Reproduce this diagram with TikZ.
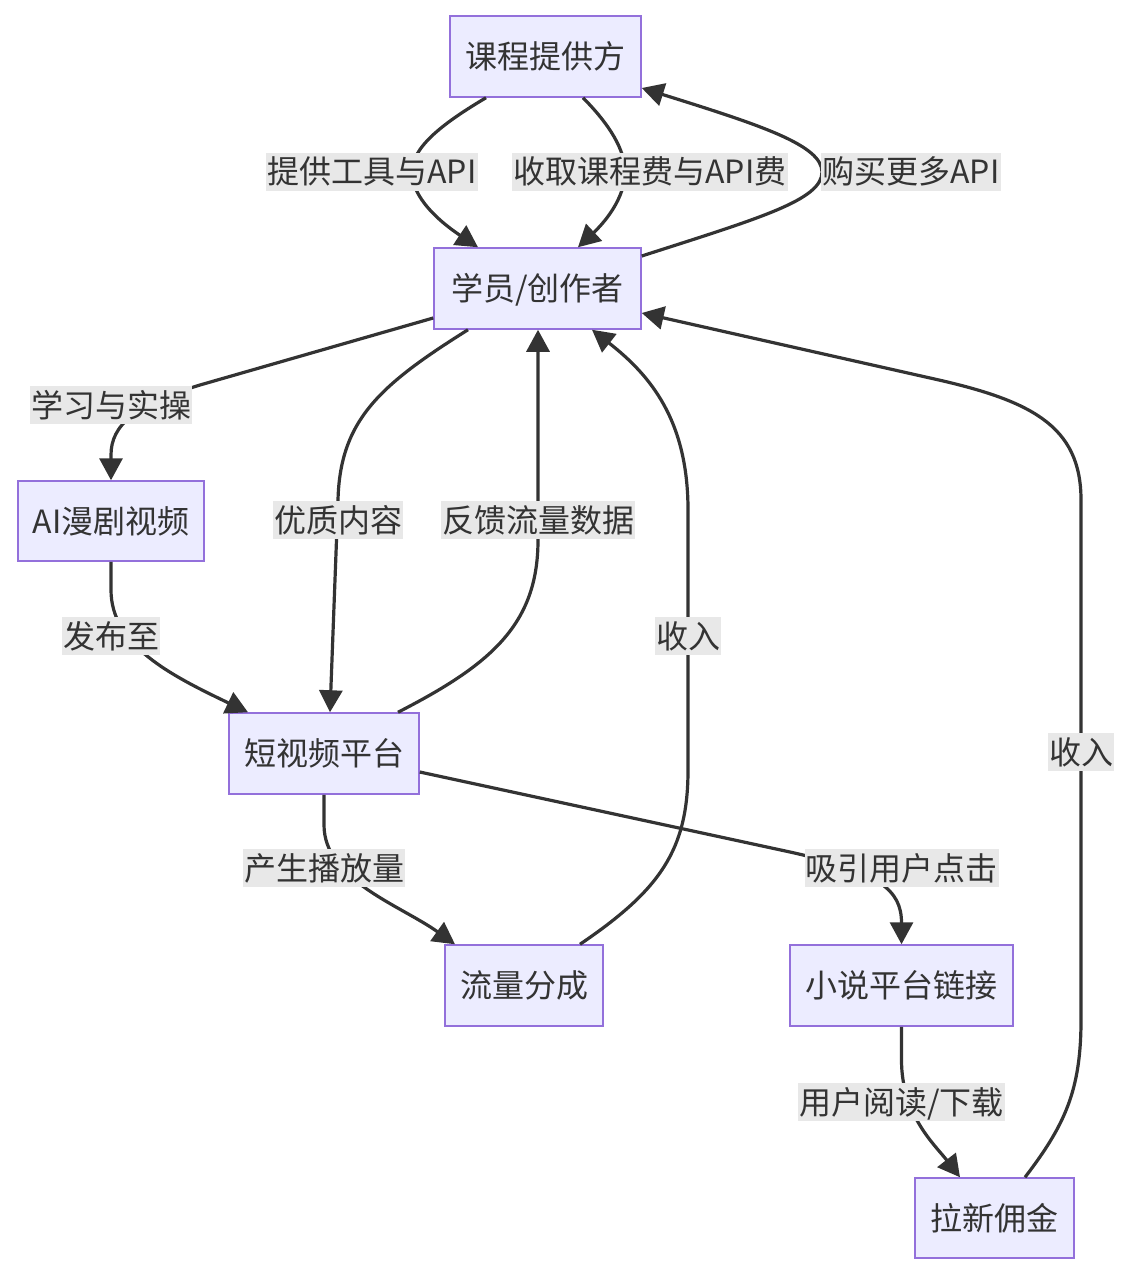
\documentclass[tikz,border=0pt]{standalone}
\usepackage{fontspec}
\setmainfont{Noto Sans CJK SC}
\usetikzlibrary{arrows.meta,calc}
\definecolor{nodefill}{HTML}{ECECFF}
\definecolor{nodeline}{HTML}{9370DB}
\definecolor{ink}{HTML}{333333}
\definecolor{lblbg}{HTML}{E8E8E8}
\begin{document}
\begin{tikzpicture}[x=1pt,y=-1pt,
  box/.style={draw=nodeline,fill=nodefill,line width=1.5pt,text=ink,
    font=\fontsize{32}{38}\selectfont,inner sep=0pt,text height=30pt,text depth=6pt},
  lbl/.style={fill=lblbg,text=ink,font=\fontsize{32}{38}\selectfont,
    inner xsep=1pt,inner ysep=1pt,text height=30pt,text depth=6pt},
  edge/.style={draw=ink,line width=3.2pt,-{Triangle[length=22pt,width=23pt]}}]
\useasboundingbox (0,0) rectangle (1132,1276);
% nodes
\node[box,minimum width=191pt,minimum height=81pt] (kc) at (545.5,56.5) {课程提供方};
\node[box,minimum width=207pt,minimum height=81pt] (xy) at (537.5,288.5) {学员/创作者};
\node[box,minimum width=186pt,minimum height=80pt] (ai) at (111,521) {AI漫剧视频};
\node[box,minimum width=190pt,minimum height=81pt] (dsp) at (324,753.5) {短视频平台};
\node[box,minimum width=158pt,minimum height=81pt] (ll) at (524,985.5) {流量分成};
\node[box,minimum width=223pt,minimum height=81pt] (xs) at (901.5,985.5) {小说平台链接};
\node[box,minimum width=159pt,minimum height=80pt] (lx) at (994.5,1218) {拉新佣金};
% edges
\draw[edge] ($(kc.south)+(-59.5,0)$) .. controls (440,125) and (412,148) .. (412,172)
  .. controls (412,198) and (440,222) .. ($(xy.north)+(-59.5,0)$);
\draw[edge] ($(kc.south)+(37.5,0)$) .. controls (610,125) and (625,150) .. (625,172)
  .. controls (625,198) and (605,222) .. ($(xy.north)+(40.5,0)$);
\draw[edge] ($(xy.east)+(0,-32.5)$) .. controls (760,218) and (822,200) .. (822,172)
  .. controls (822,145) and (760,125) .. ($(kc.east)+(0,31.5)$);
\draw[edge] ($(xy.west)+(0,29.5)$) -- (200,385) .. controls (135,405) and (111,425) .. (111,455) -- (ai.north);
\draw[edge] ($(xy.south)+(-69.5,0)$) .. controls (380,385) and (340,420) .. (338,500) -- ($(dsp.north)+(6,0)$);
\draw[edge] ($(dsp.north)+(74,0)$) .. controls (490,665) and (538,625) .. (538,540) -- ($(xy.south)+(0.5,0)$);
\draw[edge] (ai.south) -- (111,590) .. controls (111,645) and (170,675) .. ($(dsp.north)+(-76,0)$);
\draw[edge] (dsp.south) -- (324,825) .. controls (324,880) and (400,905) .. ($(ll.north)+(-69,0)$);
\draw[edge] ($(dsp.east)+(0,18.5)$) -- (790,852) .. controls (880,872) and (901.5,890) .. (xs.north);
\draw[edge] ($(ll.north)+(56,0)$) .. controls (660,890) and (688,850) .. (688,770) -- (688,510)
  .. controls (688,420) and (650,375) .. ($(xy.south)+(54.5,0)$);
\draw[edge] (xs.south) -- (901.5,1060) .. controls (901.5,1115) and (935,1145) .. ($(lx.north)+(-34.5,0)$);
\draw[edge] ($(lx.north)+(30.5,0)$) .. controls (1065,1125) and (1081,1090) .. (1081,1020) -- (1081,500)
  .. controls (1081,425) and (1030,400) .. (930,378) -- ($(xy.east)+(0,24.5)$);
% labels
\node[lbl] (l1) at (372,172) {提供工具与API};
\node[lbl] (l2) at (650,172) {收取课程费与API费};
\node[lbl] (l3) at (911,172) {购买更多API};
\node[lbl] (l4) at (111,405) {学习与实操};
\node[lbl] (l5) at (338,520) {优质内容};
\node[lbl] (l6) at (538,520) {反馈流量数据};
\node[lbl] (l7) at (111,636) {发布至};
\node[lbl] (l8) at (324,868) {产生播放量};
\node[lbl] (l9) at (901.5,868) {吸引用户点击};
\node[lbl] (l10) at (688,636) {收入};
\node[lbl] (l11) at (901.5,1102) {用户阅读/下载};
\node[lbl] (l12) at (1081,752) {收入};
\end{tikzpicture}
\end{document}
